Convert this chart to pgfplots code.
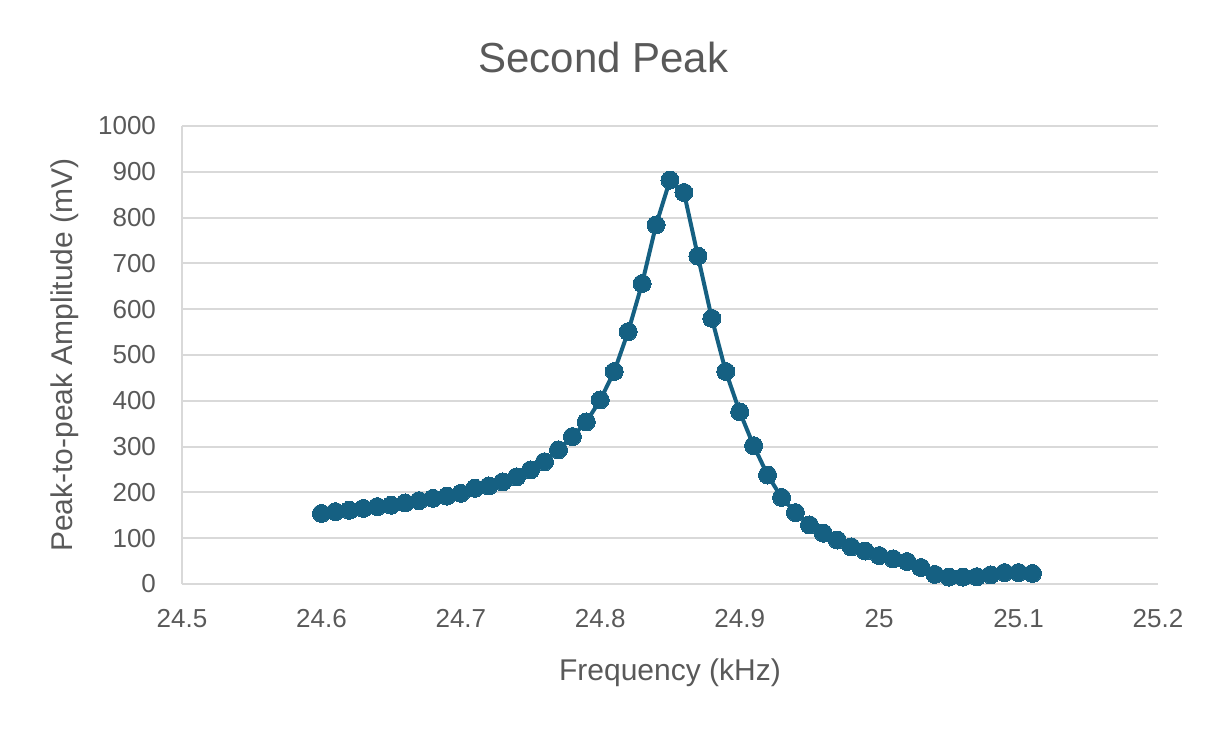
\documentclass[border=0pt]{standalone}
\usepackage{fontspec}
\setmainfont{Liberation Sans}
\usepackage{pgfplots}
\pgfplotsset{compat=1.18}
\definecolor{peakblue}{HTML}{156082}
\definecolor{txtgray}{HTML}{595959}
\definecolor{gridgray}{HTML}{D9D9D9}
\begin{document}
\begin{tikzpicture}
	\begin{axis}[
		at={(0,0)}, anchor=south west,
		scale only axis,
		width=488pt,
		height=229pt,
		xmin=24.5, xmax=25.2,
		ymin=0, ymax=1000,
		xtick={24.5,24.6,24.7,24.8,24.9,25,25.1,25.2},
		ytick={0,100,200,300,400,500,600,700,800,900,1000},
		scaled ticks=false,
		/pgf/number format/assume math mode=true,
		/pgf/number format/.cd, fixed, 1000 sep={}, /pgfplots/.cd,
		axis x line*=bottom,
		axis y line*=left,
		axis line style={gridgray, line width=1pt},
		major tick length=0pt,
		ymajorgrids=true,
		major grid style={gridgray, line width=1pt},
		tick label style={font=\fontsize{13}{15}\selectfont, text=txtgray},
		xticklabel style={yshift=-9pt},
		yticklabel style={xshift=-9.5pt},
		every axis x label/.style={at={(axis description cs:0.5,0)}, anchor=center, yshift=-44.5pt, font=\fontsize{15}{17}\selectfont, text=txtgray},
		every axis y label/.style={at={(axis description cs:0,0.5)}, xshift=-58.5pt, rotate=90, anchor=center, font=\fontsize{15}{17}\selectfont, text=txtgray},
		xlabel={Frequency (kHz)},
		ylabel={Peak-to-peak Amplitude (mV)},
		clip=false,
		]
		\addplot[
		color=peakblue,
		line width=2pt,
		mark=*,
		mark size=4.5pt,
		mark options={fill=peakblue, draw=peakblue, line width=0pt}
		]
		coordinates {
			(24.60,154) (24.61,158) (24.62,161) (24.63,165) (24.64,169)
			(24.65,172) (24.66,177) (24.67,182) (24.68,187) (24.69,192)
			(24.70,198) (24.71,209) (24.72,214) (24.73,223) (24.74,234)
			(24.75,249) (24.76,267) (24.77,293) (24.78,322) (24.79,354)
			(24.80,402) (24.81,464) (24.82,551) (24.83,656) (24.84,784)
			(24.85,882) (24.86,855) (24.87,716) (24.88,580) (24.89,464)
			(24.90,376) (24.91,302) (24.92,238) (24.93,189) (24.94,156)
			(24.95,129) (24.96,111) (24.97,96) (24.98,81) (24.99,72)
			(25.00,62) (25.01,55) (25.02,49) (25.03,36) (25.04,21)
			(25.05,15) (25.06,15) (25.07,16) (25.08,20) (25.09,25)
			(25.10,25) (25.11,23)
		};
	\end{axis}
	\node[font=\fontsize{21}{24}\selectfont, text=txtgray] at (210.75pt,263.5pt) {Second Peak};
	\pgfresetboundingbox
	\path (-91pt,-73pt) rectangle (512.5pt,292pt);
\end{tikzpicture}
\end{document}
